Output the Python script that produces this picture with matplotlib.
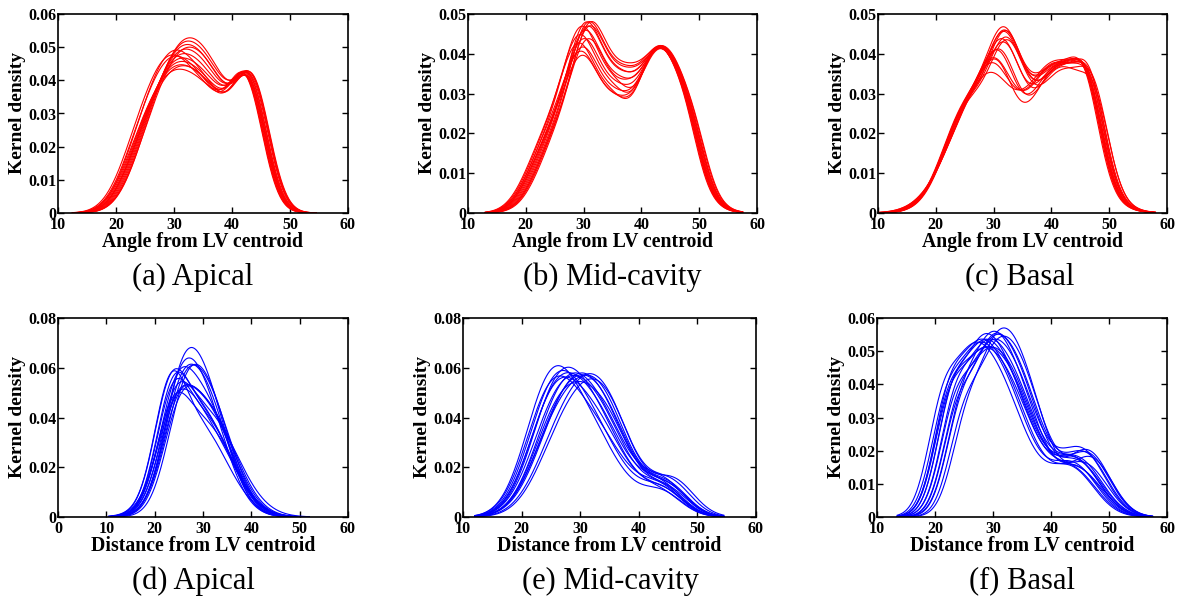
import numpy as np
import matplotlib
matplotlib.use("Agg")
import matplotlib.pyplot as plt

plt.rcParams['font.family'] = ['Liberation Serif', 'DejaVu Serif']

# ---- data: each curve is a list of bumps (centre, spread, height) ----
apical_angle = [
    [(24.0, 3.5, 0.013), (30.0, 4.2, 0.0360), (36.5, 3.5, 0.0227), (42.5, 2.9, 0.0355)],
    [(24.2, 3.5, 0.013), (30.2, 4.2, 0.0370), (36.6, 3.5, 0.0229), (42.7, 2.9, 0.0355)],
    [(24.4, 3.5, 0.013), (30.4, 4.2, 0.0380), (36.8, 3.5, 0.0230), (42.9, 2.9, 0.0356)],
    [(24.6, 3.5, 0.013), (30.6, 4.2, 0.0390), (37.0, 3.5, 0.0232), (43.0, 2.9, 0.0355)],
    [(24.8, 3.5, 0.013), (30.8, 4.2, 0.0400), (37.1, 3.5, 0.0233), (43.2, 2.9, 0.0356)],
    [(25.0, 3.5, 0.013), (31.0, 4.2, 0.0410), (37.2, 3.5, 0.0235), (43.3, 2.9, 0.0355)],
    [(25.2, 3.5, 0.013), (31.2, 4.2, 0.0420), (37.3, 3.5, 0.0237), (43.5, 2.9, 0.0355)],
    [(25.4, 3.5, 0.013), (31.4, 4.2, 0.0430), (37.5, 3.5, 0.0239), (43.6, 2.9, 0.0355)],
    [(25.6, 3.5, 0.013), (31.6, 4.2, 0.0436), (37.6, 3.5, 0.0240), (43.8, 2.9, 0.0356)],
    [(23.5, 3.5, 0.013), (29.5, 4.2, 0.0415), (36.5, 3.5, 0.0232), (42.6, 2.9, 0.0356)],
    [(23.8, 3.5, 0.013), (29.8, 4.2, 0.0405), (36.5, 3.5, 0.0231), (42.8, 2.9, 0.0357)],
    [(24.0, 3.5, 0.013), (30.0, 4.2, 0.0425), (36.8, 3.5, 0.0234), (43.1, 2.9, 0.0356)],
    [(25.5, 3.5, 0.013), (31.5, 4.2, 0.0410), (37.5, 3.5, 0.0232), (43.7, 2.9, 0.0358)],
    [(24.5, 3.5, 0.013), (30.5, 4.2, 0.0365), (36.8, 3.5, 0.0225), (43.0, 2.9, 0.0352)],
]
mid_angle = [
    [(23.3, 3.5, 0.016), (29.3, 3.2, 0.037), (35.3, 2.8, 0.0200), (41.0, 2.5, 0.008), (44.0, 4.0, 0.0365), (48.0, 2.0, 0.004)],
    [(23.5, 3.5, 0.016), (29.5, 3.2, 0.039), (35.5, 2.8, 0.0210), (41.0, 2.5, 0.008), (44.1, 4.0, 0.0365), (48.2, 2.0, 0.004)],
    [(23.7, 3.5, 0.016), (29.7, 3.2, 0.035), (35.7, 2.8, 0.0190), (41.0, 2.5, 0.008), (44.2, 4.0, 0.0365), (48.3, 2.0, 0.004)],
    [(24.0, 3.5, 0.016), (30.0, 3.2, 0.034), (36.0, 2.8, 0.0185), (41.0, 2.5, 0.008), (44.3, 4.0, 0.0365), (48.5, 2.0, 0.004)],
    [(24.2, 3.5, 0.016), (30.2, 3.2, 0.038), (36.2, 2.8, 0.0205), (41.1, 2.5, 0.008), (44.4, 4.0, 0.0365), (48.6, 2.0, 0.004)],
    [(24.4, 3.5, 0.016), (30.4, 3.2, 0.040), (36.4, 2.8, 0.0215), (41.2, 2.5, 0.008), (44.5, 4.0, 0.0365), (48.8, 2.0, 0.004)],
    [(24.6, 3.5, 0.016), (30.6, 3.2, 0.042), (36.6, 2.8, 0.0225), (41.3, 2.5, 0.008), (44.6, 4.0, 0.0365), (49.0, 2.0, 0.004)],
    [(24.8, 3.5, 0.016), (30.8, 3.2, 0.041), (36.8, 2.8, 0.0220), (41.4, 2.5, 0.008), (44.7, 4.0, 0.0365), (49.2, 2.0, 0.004)],
    [(25.0, 3.5, 0.016), (31.0, 3.2, 0.042), (37.0, 2.8, 0.0230), (41.5, 2.5, 0.008), (44.8, 4.0, 0.0365), (49.4, 2.0, 0.004)],
    [(25.2, 3.5, 0.016), (31.2, 3.2, 0.041), (37.2, 2.8, 0.0225), (41.6, 2.5, 0.008), (45.0, 4.0, 0.0365), (49.6, 2.0, 0.004)],
    [(25.4, 3.5, 0.016), (31.4, 3.2, 0.042), (37.4, 2.8, 0.0230), (41.7, 2.5, 0.008), (45.1, 4.0, 0.0365), (49.8, 2.0, 0.004)],
    [(24.0, 3.5, 0.016), (30.0, 3.2, 0.036), (36.0, 2.8, 0.0195), (41.0, 2.5, 0.008), (44.3, 4.0, 0.0365), (48.4, 2.0, 0.004)],
    [(23.8, 3.5, 0.016), (29.8, 3.2, 0.041), (35.8, 2.8, 0.0220), (41.1, 2.5, 0.008), (44.4, 4.0, 0.0365), (48.7, 2.0, 0.004)],
    [(25.0, 3.5, 0.016), (31.0, 3.2, 0.038), (37.0, 2.8, 0.0200), (41.5, 2.5, 0.008), (44.8, 4.0, 0.0365), (49.2, 2.0, 0.004)],
]
basal_angle = [
    [(25.5, 4.2, 0.026), (32.0, 3.0, 0.031), (41.0, 5.0, 0.0360), (46.5, 2.4, 0.015)],
    [(25.7, 4.2, 0.026), (32.3, 3.0, 0.030), (41.5, 5.0, 0.0360), (47.2, 2.4, 0.015)],
    [(25.4, 4.2, 0.026), (31.8, 3.0, 0.031), (40.6, 5.0, 0.0360), (46.0, 2.4, 0.015)],
    [(25.8, 4.2, 0.026), (32.5, 3.0, 0.030), (41.8, 5.0, 0.0350), (47.6, 2.4, 0.015)],
    [(25.9, 4.4, 0.027), (31.8, 2.9, 0.026), (41.0, 5.0, 0.0360), (46.6, 2.4, 0.015)],
    [(26.3, 4.6, 0.027), (31.5, 2.8, 0.021), (41.2, 5.0, 0.0360), (46.9, 2.4, 0.015)],
    [(26.7, 4.8, 0.028), (31.2, 2.7, 0.017), (40.9, 5.0, 0.0358), (46.4, 2.4, 0.015)],
    [(27.1, 5.0, 0.028), (30.9, 2.6, 0.013), (41.3, 5.0, 0.0358), (47.0, 2.4, 0.015)],
    [(27.5, 5.2, 0.029), (30.6, 2.6, 0.010), (40.8, 5.0, 0.0356), (46.3, 2.4, 0.015)],
    [(27.8, 5.4, 0.030), (30.3, 2.5, 0.007), (41.0, 5.0, 0.0356), (46.8, 2.4, 0.015)],
    [(28.0, 5.5, 0.030), (30.0, 2.5, 0.004), (41.0, 5.0, 0.0355), (46.5, 2.4, 0.015)],
    [(25.5, 4.2, 0.026), (32.2, 3.0, 0.032), (41.4, 5.0, 0.0355), (47.0, 2.4, 0.016)],
    [(25.6, 4.2, 0.026), (32.0, 3.0, 0.029), (41.6, 5.0, 0.0360), (47.8, 2.4, 0.014)],
    [(26.0, 4.4, 0.027), (32.0, 2.9, 0.027), (40.7, 5.0, 0.0360), (46.2, 2.4, 0.015)],
]
apical_dist = [
    [(24.0, 3.5, 0.0295), (30.0, 5.5, 0.046)],
    [(23.5, 3.3, 0.0340), (30.0, 5.8, 0.040)],
    [(25.0, 3.5, 0.0220), (29.5, 5.2, 0.055)],
    [(24.5, 3.5, 0.0250), (30.0, 5.0, 0.050)],
    [(23.0, 3.2, 0.0350), (29.0, 6.0, 0.036)],
    [(24.0, 3.5, 0.0260), (30.5, 5.5, 0.043)],
    [(25.0, 3.5, 0.0180), (30.0, 5.5, 0.052)],
    [(23.5, 3.4, 0.0360), (30.5, 5.5, 0.038)],
    [(24.5, 3.5, 0.0270), (31.0, 5.5, 0.042)],
    [(24.0, 3.8, 0.0260), (30.0, 6.0, 0.036)],
    [(25.5, 3.5, 0.0220), (30.5, 5.0, 0.050)],
    [(23.0, 3.3, 0.0340), (29.5, 5.8, 0.042)],
    [(24.0, 3.5, 0.0300), (31.0, 6.2, 0.040)],
    [(25.0, 3.6, 0.0280), (31.5, 5.5, 0.040)],
    [(24.5, 3.5, 0.0200), (29.0, 5.3, 0.052)],
    [(23.5, 3.4, 0.0300), (30.5, 5.8, 0.036)],
]
mid_dist = [
    [(25.0, 4.3, 0.0333), (32.0, 5.5, 0.0416), (44.0, 3.5, 0.011)],
    [(24.5, 4.2, 0.0406), (31.0, 5.5, 0.0343), (44.0, 3.5, 0.009)],
    [(25.5, 4.3, 0.0270), (33.0, 5.0, 0.0489), (45.0, 3.5, 0.012)],
    [(25.0, 4.3, 0.0374), (31.5, 5.5, 0.0354), (44.0, 3.5, 0.010)],
    [(26.0, 4.5, 0.0286), (33.0, 5.2, 0.0447), (45.0, 3.5, 0.011)],
    [(25.5, 4.4, 0.0322), (32.5, 5.3, 0.0416), (44.5, 3.5, 0.010)],
    [(26.5, 4.5, 0.0250), (33.5, 5.0, 0.0478), (45.5, 3.5, 0.013)],
    [(24.5, 4.2, 0.0354), (31.5, 5.8, 0.0364), (44.0, 3.5, 0.010)],
    [(26.0, 4.4, 0.0302), (32.5, 5.5, 0.0416), (44.5, 3.5, 0.012)],
    [(27.0, 4.5, 0.0270), (34.0, 4.8, 0.0447), (46.0, 3.5, 0.014)],
    [(25.0, 4.2, 0.0343), (32.0, 5.5, 0.0385), (44.0, 3.5, 0.008)],
    [(25.5, 4.3, 0.0354), (32.0, 5.5, 0.0395), (44.5, 3.5, 0.009)],
    [(26.5, 4.6, 0.0291), (33.0, 5.2, 0.0426), (45.0, 3.5, 0.011)],
    [(26.0, 4.4, 0.0343), (33.5, 5.0, 0.0406), (45.0, 3.5, 0.010)],
]
basal_dist = [
    [(23.0, 2.5, 0.022), (27.5, 3.0, 0.016), (32.0, 5.2, 0.045), (45.0, 4.0, 0.016)],
    [(21.5, 2.5, 0.022), (26.0, 3.0, 0.016), (30.5, 5.2, 0.044), (44.0, 4.0, 0.015)],
    [(22.0, 2.5, 0.024), (26.5, 3.0, 0.018), (31.0, 5.2, 0.043), (44.5, 4.0, 0.014)],
    [(24.0, 2.5, 0.020), (28.5, 3.0, 0.016), (33.0, 5.0, 0.047), (46.0, 3.8, 0.018)],
    [(22.5, 2.5, 0.023), (27.0, 3.0, 0.017), (31.5, 5.2, 0.044), (44.5, 4.0, 0.016)],
    [(23.5, 2.5, 0.021), (28.0, 3.0, 0.015), (32.5, 5.1, 0.046), (45.5, 3.9, 0.019)],
    [(24.5, 2.5, 0.019), (29.0, 3.0, 0.014), (33.5, 4.9, 0.048), (46.5, 3.7, 0.018)],
    [(21.0, 2.5, 0.023), (25.5, 3.0, 0.017), (30.0, 5.2, 0.043), (43.5, 4.0, 0.014)],
    [(23.0, 2.5, 0.021), (27.5, 3.0, 0.014), (32.0, 5.2, 0.044), (45.0, 4.0, 0.013)],
    [(22.0, 2.5, 0.022), (26.5, 3.0, 0.015), (31.5, 5.4, 0.045), (45.0, 4.0, 0.015)],
    [(24.0, 2.5, 0.019), (28.5, 3.0, 0.017), (32.5, 5.1, 0.045), (46.0, 3.8, 0.015)],
    [(22.5, 2.5, 0.024), (27.0, 3.0, 0.016), (31.5, 5.2, 0.042), (44.0, 4.0, 0.013)],
    [(23.5, 2.5, 0.022), (28.5, 3.0, 0.018), (33.0, 5.0, 0.046), (46.5, 3.7, 0.019)],
    [(25.0, 2.5, 0.017), (29.5, 3.0, 0.014), (33.5, 4.9, 0.049), (47.0, 3.6, 0.017)],
    [(22.0, 2.5, 0.023), (27.0, 3.0, 0.015), (31.0, 5.3, 0.046), (44.5, 4.0, 0.016)],
]

# per panel: evaluated x range of the density curves
curve_ranges = [(12.5, 54.5), (13.0, 57.5), (10.0, 58.0),
                (10.5, 52.0), (12.0, 54.5), (13.5, 57.5)]
xlims = [(10, 60), (10, 60), (10, 60), (0, 60), (10, 60), (10, 60)]
ylims = [(0, 0.06), (0, 0.05), (0, 0.05), (0, 0.08), (0, 0.08), (0, 0.06)]
ysteps = [0.01, 0.01, 0.01, 0.02, 0.02, 0.01]
xlabels = ['Angle from LV centroid'] * 3 + ['Distance from LV centroid'] * 3
captions = ['(a) Apical', '(b) Mid-cavity', '(c) Basal',
            '(d) Apical', '(e) Mid-cavity', '(f) Basal']
colors = ['#ff0000'] * 3 + ['#0000ff'] * 3
all_curves = [apical_angle, mid_angle, basal_angle, apical_dist, mid_dist, basal_dist]


def density(x, bumps):
    y = np.zeros_like(x)
    for c, s, h in bumps:
        y += h * np.exp(-0.5 * ((x - c) / s) ** 2)
    return y


fig = plt.figure(figsize=(11.81, 6.02), dpi=100)
W, H = 1181.0, 602.0
# axes boxes in pixels: left, top, right, bottom
boxes = [(58, 14, 348, 213), (468, 14, 757, 213), (878, 14, 1167, 213),
         (58, 318, 348, 517), (463, 318, 756, 517), (877, 318, 1167, 517)]
caption_pos = [(193, 277), (612, 277), (1020, 277), (193, 581), (610, 581), (1022, 581)]

for i in range(6):
    l, t, r, b = boxes[i]
    ax = fig.add_axes([l / W, 1 - b / H, (r - l) / W, (b - t) / H])
    x = np.linspace(curve_ranges[i][0], curve_ranges[i][1], 500)
    for bumps in all_curves[i]:
        ax.plot(x, density(x, bumps), color=colors[i], lw=0.8)
    ax.set_xlim(*xlims[i])
    ax.set_ylim(*ylims[i])
    ax.set_xticks(np.arange(xlims[i][0], xlims[i][1] + 1, 10))
    yt = np.arange(0, ylims[i][1] + 1e-9, ysteps[i])
    ax.set_yticks(yt)
    ax.set_yticklabels(['0'] + ['%g' % v for v in yt[1:]])
    ax.tick_params(direction='in', top=True, right=True, length=4, width=1,
                   labelsize=11.5)
    ax.tick_params(axis='x', pad=3)
    ax.tick_params(axis='y', pad=1)
    for lab in ax.get_xticklabels() + ax.get_yticklabels():
        lab.set_fontweight('bold')
    for sp in ax.spines.values():
        sp.set_linewidth(1.2)
    ax.set_xlabel(xlabels[i], fontsize=14.2, fontweight='bold', labelpad=-1)
    ax.set_ylabel('Kernel density', fontsize=14, fontweight='bold', labelpad=2)
    cx, cy = caption_pos[i]
    fig.text(cx / W, 1 - cy / H, captions[i], fontsize=22, ha='center', va='center')

fig.savefig('out.png', dpi=100)
